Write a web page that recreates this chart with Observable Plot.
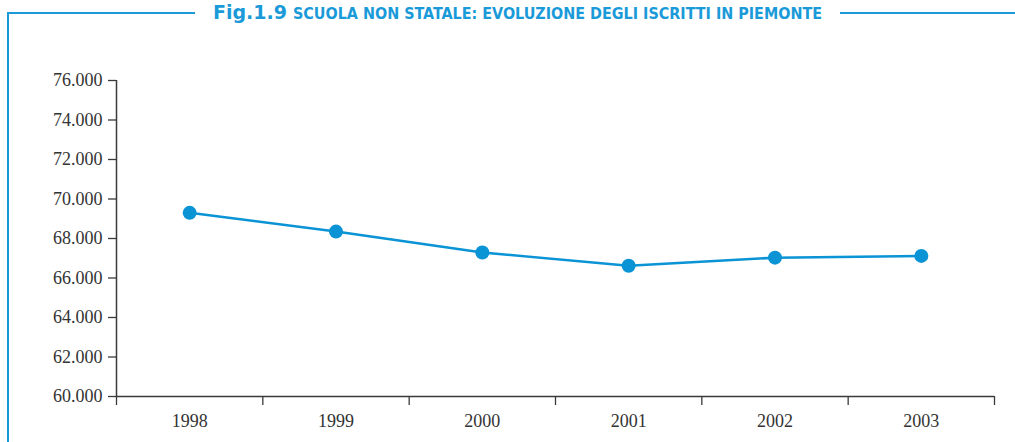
<!DOCTYPE html>
<html>
<head>
<meta charset="utf-8">
<script src="https://cdn.jsdelivr.net/npm/d3@7"></script>
<script src="https://cdn.jsdelivr.net/npm/@observablehq/plot@0.6"></script>
<style>
  html, body { margin: 0; padding: 0; background: #fff; }
  #wrap { position: relative; width: 1015px; height: 442px; overflow: hidden; background: #fff; }
  #chart { position: absolute; left: 0; top: 0; }
  .frame { position: absolute; background: #1a9ad8; }
  #title { position: absolute; left: 0; top: 0; }
  #title text { font-family: "DejaVu Sans Condensed", "DejaVu Sans", sans-serif; font-weight: bold; fill: #1a9ad8; }
</style>
</head>
<body>
<div id="wrap">
  <div id="chart"></div>
  <div class="frame" style="left:7px; top:12px; width:2px; height:430px;"></div>
  <div class="frame" style="left:7px; top:12px; width:188px; height:2px;"></div>
  <div class="frame" style="left:840px; top:12px; width:175px; height:2px;"></div>
  <svg id="title" width="1015" height="30">
    <text x="213" y="18.5" font-size="20" textLength="74" lengthAdjust="spacingAndGlyphs">Fig.1.9</text>
    <text x="293" y="18.5" font-size="16" textLength="529" lengthAdjust="spacingAndGlyphs">SCUOLA NON STATALE: EVOLUZIONE DEGLI ISCRITTI IN PIEMONTE</text>
  </svg>
</div>
<script>
const years = [1998, 1999, 2000, 2001, 2002, 2003];
const iscritti = [69300, 68350, 67290, 66620, 67030, 67120];
const yTicks = [60000, 62000, 64000, 66000, 68000, 70000, 72000, 74000, 76000];

const data = years.map((y, i) => ({year: y, value: iscritti[i]}));
const bounds = years.map(y => y - 0.5).concat([years[years.length - 1] + 0.5]);
const xDomain = [bounds[0], bounds[bounds.length - 1]];
const yDomain = [yTicks[0], yTicks[yTicks.length - 1]];
const fmt = d3.formatLocale({decimal: ",", thousands: ".", grouping: [3], currency: ["", "€"]}).format(",.0f");
const blue = "#0a93d5";
const axisColor = "#3a3a3a";

const plot = Plot.plot({
  width: 1015,
  height: 442,
  marginLeft: 116,
  marginRight: 21,
  marginTop: 80,
  marginBottom: 46,
  style: {background: "transparent", fontFamily: "'Liberation Serif', serif", fontSize: "18px", color: "#333", overflow: "visible"},
  x: {domain: xDomain},
  y: {domain: yDomain},
  marks: [
    Plot.axisY({ticks: yTicks, tickFormat: fmt, tickSize: 8, tickPadding: 6, stroke: axisColor, strokeWidth: 1.3, label: null, fill: "#333"}),
    Plot.axisX({ticks: bounds, tickFormat: () => "", tickSize: 9, stroke: axisColor, strokeWidth: 1.3, label: null}),
    Plot.axisX({ticks: years, tickFormat: d => String(d), tickSize: 0, tickPadding: 18, label: null, fill: "#333"}),
    Plot.ruleX([xDomain[0]], {stroke: axisColor, strokeWidth: 1.5}),
    Plot.ruleY([yDomain[0]], {stroke: axisColor, strokeWidth: 1.5}),
    Plot.line(data, {x: "year", y: "value", stroke: blue, strokeWidth: 2.5}),
    Plot.dot(data, {x: "year", y: "value", r: 7, fill: blue, stroke: "none"})
  ]
});
document.getElementById("chart").appendChild(plot);
</script>
</body>
</html>
